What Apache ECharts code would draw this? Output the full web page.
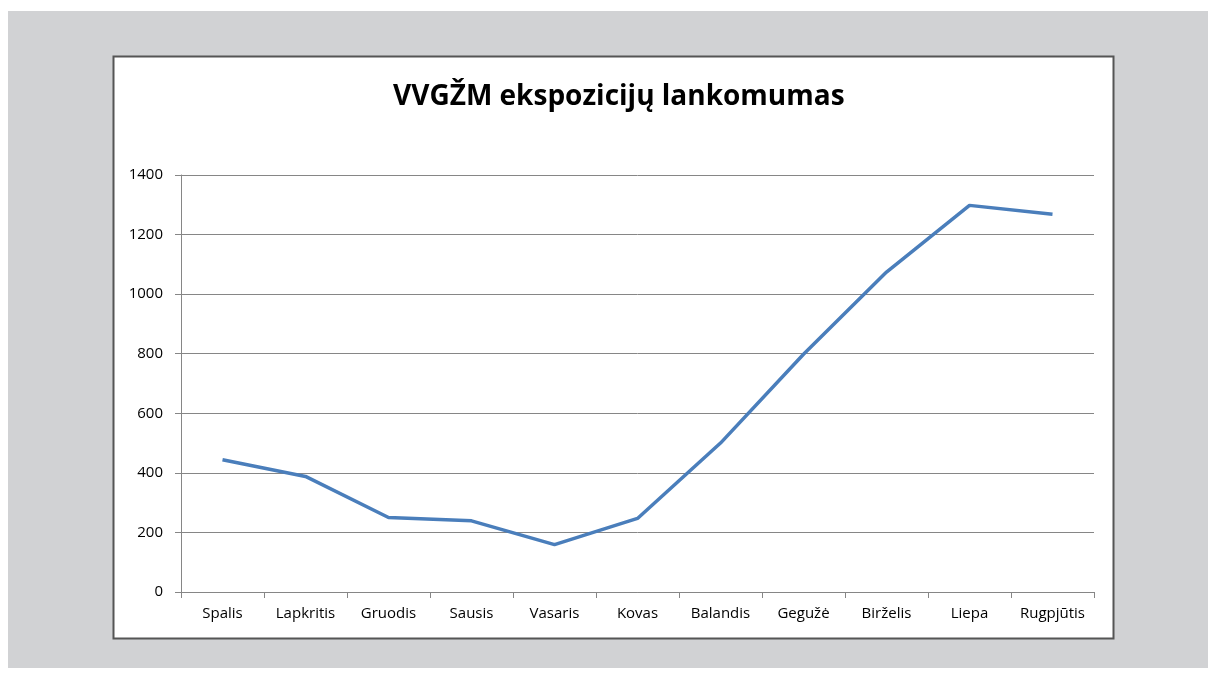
<!DOCTYPE html>
<html>
<head>
<meta charset="utf-8">
<script src="https://cdn.jsdelivr.net/npm/echarts@6/dist/echarts.min.js"></script>
<style>
html,body{margin:0;padding:0;background:#fff;}
#c{width:1214px;height:675px;}
</style>
</head>
<body>
<div id="c"></div>
<script>
var categories = ['Spalis','Lapkritis','Gruodis','Sausis','Vasaris','Kovas','Balandis','Gegužė','Birželis','Liepa','Rugpjūtis'];
var visits = [444, 388, 250, 239, 159, 247, 500, 798, 1074, 1298, 1268];
var yTicks = {min: 0, max: 1400, interval: 200};
var titleText = 'VVGŽM ekspozicijų lankomumas';

var chart = echarts.init(document.getElementById('c'));
chart.setOption({
  animation: false,
  backgroundColor: '#fff',
  graphic: [
    {type: 'rect', z: -10, shape: {x: 8, y: 11, width: 1200, height: 657}, style: {fill: '#d1d2d4'}},
    {type: 'rect', z: -9, shape: {x: 113.5, y: 56.5, width: 1000, height: 582}, style: {fill: '#fff', stroke: '#555', lineWidth: 2}}
  ],
  title: {
    text: titleText,
    left: 388,
    top: 78,
    textStyle: {fontFamily: 'Open Sans', fontWeight: 'bold', fontSize: 28, color: '#000'}
  },
  grid: {left: 181, right: 120, top: 175, bottom: 83},
  xAxis: {
    type: 'category',
    data: categories,
    boundaryGap: true,
    axisLine: {lineStyle: {color: '#868686', width: 1}},
    axisTick: {show: true, length: 6, alignWithLabel: false, lineStyle: {color: '#868686'}},
    axisLabel: {margin: 14, fontFamily: 'Open Sans', fontSize: 15, color: '#000', interval: 0}
  },
  yAxis: {
    type: 'value',
    min: yTicks.min, max: yTicks.max, interval: yTicks.interval,
    axisLine: {show: true, lineStyle: {color: '#868686', width: 1}},
    axisTick: {show: true, length: 6, lineStyle: {color: '#868686'}},
    axisLabel: {margin: 18, fontFamily: 'Open Sans', fontSize: 15, color: '#000', formatter: function (v) { return String(v); }},
    splitLine: {lineStyle: {color: '#868686', width: 1}}
  },
  series: [{
    type: 'line',
    data: visits,
    symbol: 'none',
    lineStyle: {color: '#4a7ebb', width: 3.5},
    itemStyle: {color: '#4a7ebb'}
  }]
});
</script>
</body>
</html>
